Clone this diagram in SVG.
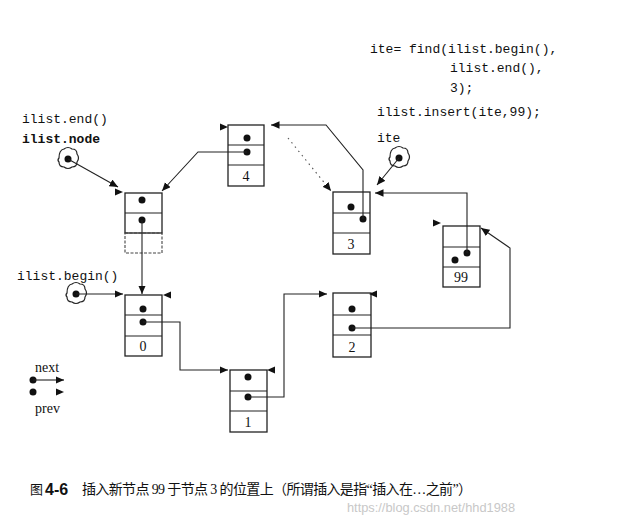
<svg xmlns="http://www.w3.org/2000/svg" width="643" height="523" viewBox="0 0 643 523">
<style>
.box{fill:none;stroke:#222;stroke-width:1.3}
.row{stroke:#222;stroke-width:1.1}
.dot{fill:#111}
.ln{fill:none;stroke:#222;stroke-width:1.1;marker-end:url(#ah)}
.dl{fill:none;stroke:#555;stroke-width:1.1;stroke-dasharray:1.5 4;marker-end:url(#ah)}
.tri{fill:#111}
.code{font-family:"Liberation Mono","DejaVu Sans Mono",monospace;font-size:13px;fill:#111}
.num{font-family:"Liberation Serif","Times New Roman",serif;font-size:14px;fill:#111;text-anchor:middle}
.leg{font-family:"Liberation Serif","Times New Roman",serif;font-size:14px;fill:#111}
.cloud{fill:none;stroke:#222;stroke-width:1.2}
</style>
<defs>
<marker id="ah" markerWidth="9" markerHeight="8" refX="8.5" refY="3.75" orient="auto" markerUnits="userSpaceOnUse">
<path d="M0,0 L8.5,3.75 L0,7.5 z" fill="#111"/>
</marker>
<polygon id="tr" points="0,-3.5 8,0 0,3.5" class="tri"/>
<polygon id="tl" points="0,-3.5 -8,0 0,3.5" class="tri"/>
</defs>

<g id="code">
<text class="code" x="370" y="53">ite= find(ilist.begin(),</text>
<text class="code" x="450" y="72">ilist.end(),</text>
<text class="code" x="450" y="92">3);</text>
<text class="code" x="377" y="116">ilist.insert(ite,99);</text>
</g>

<g id="ptr-end">
<text class="code" x="22" y="123">ilist.end()</text>
<text class="code" x="22" y="143" font-weight="bold">ilist.node</text>
<path class="cloud" d="M59,158 q0,-8 5,-9 q4,-3 8,0 q5,0 5,5 q3,4 0,8 q0,5 -5,5 q-4,3 -8,0 q-5,0 -5,-5 q-2,-2 0,-4 z"/>
<circle class="dot" cx="68" cy="159" r="3.5"/>
</g>

<g id="ptr-begin">
<text class="code" x="17" y="280">ilist.begin()</text>
<path class="cloud" d="M67,293 q0,-8 5,-9 q4,-3 8,0 q5,0 5,5 q3,4 0,8 q0,5 -5,5 q-4,3 -8,0 q-5,0 -5,-5 q-2,-2 0,-4 z"/>
<circle class="dot" cx="76" cy="294" r="3.5"/>
</g>

<g id="ptr-ite">
<text class="code" x="377" y="142">ite</text>
<path class="cloud" d="M390,157 q0,-8 5,-9 q4,-3 8,0 q5,0 5,5 q3,4 0,8 q0,5 -5,5 q-4,3 -8,0 q-5,0 -5,-5 q-2,-2 0,-4 z"/>
<circle class="dot" cx="399" cy="158" r="3.5"/>
</g>

<g id="node-end">
<rect class="box" x="125" y="193" width="37" height="40"/>
<rect x="125" y="233" width="37" height="20" fill="none" stroke="#444" stroke-width="1.1" stroke-dasharray="3 1.5"/>
<line class="row" x1="125" y1="213" x2="162" y2="213"/>
<circle class="dot" cx="142" cy="200" r="3.5"/>
<circle class="dot" cx="142" cy="220" r="3.5"/>
<use href="#tr" x="115" y="192"/>
</g>

<g id="node-4">
<rect class="box" x="228" y="125" width="36" height="61"/>
<line class="row" x1="228" y1="145" x2="264" y2="145"/>
<line class="row" x1="228" y1="165" x2="264" y2="165"/>
<circle class="dot" cx="247" cy="138" r="3.5"/>
<circle class="dot" cx="247" cy="152" r="3.5"/>
<text class="num" x="246" y="181">4</text>
<use href="#tr" x="220" y="127"/>
</g>

<g id="node-3">
<rect class="box" x="333" y="192" width="37" height="62"/>
<line class="row" x1="333" y1="213" x2="370" y2="213"/>
<line class="row" x1="333" y1="233" x2="370" y2="233"/>
<circle class="dot" cx="351" cy="207" r="3.5"/>
<circle class="dot" cx="363" cy="219" r="3.5"/>
<text class="num" x="351" y="249">3</text>
</g>

<g id="node-99">
<rect class="box" x="443" y="226" width="37" height="61"/>
<line class="row" x1="443" y1="247" x2="480" y2="247"/>
<line class="row" x1="443" y1="267" x2="480" y2="267"/>
<circle class="dot" cx="467" cy="253" r="3.5"/>
<circle class="dot" cx="455" cy="260" r="3.5"/>
<text class="num" x="461" y="282">99</text>
<use href="#tr" x="433" y="223"/>
</g>

<g id="node-0">
<rect class="box" x="125" y="295" width="37" height="61"/>
<line class="row" x1="125" y1="315" x2="162" y2="315"/>
<line class="row" x1="125" y1="336" x2="162" y2="336"/>
<circle class="dot" cx="143" cy="309" r="3.5"/>
<circle class="dot" cx="143" cy="322" r="3.5"/>
<text class="num" x="143" y="351">0</text>
<use href="#tl" x="171" y="295"/>
</g>

<g id="node-1">
<rect class="box" x="230" y="370" width="37" height="62"/>
<line class="row" x1="230" y1="391" x2="267" y2="391"/>
<line class="row" x1="230" y1="411" x2="267" y2="411"/>
<circle class="dot" cx="248" cy="377" r="3.5"/>
<circle class="dot" cx="248" cy="397" r="3.5"/>
<text class="num" x="248" y="427">1</text>
<use href="#tl" x="275" y="370"/>
</g>

<g id="node-2">
<rect class="box" x="333" y="293" width="38" height="64"/>
<line class="row" x1="333" y1="315" x2="371" y2="315"/>
<line class="row" x1="333" y1="335" x2="371" y2="335"/>
<circle class="dot" cx="352" cy="309" r="3.5"/>
<circle class="dot" cx="352" cy="328" r="3.5"/>
<text class="num" x="352" y="352">2</text>
<use href="#tl" x="377" y="294"/>
</g>

<g id="connectors">
<path class="ln" d="M68,159 L118,187"/>
<path class="ln" d="M247,152 L198,152 L162,191"/>
<path class="ln" d="M142,220 L142,294"/>
<path class="ln" d="M76,294 L123,294"/>
<path class="ln" d="M143,322 L180,322 L180,370 L228,370"/>
<path class="ln" d="M248,397 L284,397 L284,294 L327,294"/>
<path class="ln" d="M352,328 L510,328 L510,248 L481,228"/>
<path class="ln" d="M467,253 L467,193 L375,193"/>
<path class="ln" d="M363,219 L363,170 L326,125 L271,125"/>
<path class="ln" d="M399,158 L377,185"/>
<path class="dl" d="M288,138 L331,191"/>
</g>

<g id="legend">
<text class="leg" x="35" y="372">next</text>
<circle class="dot" cx="33" cy="380" r="3.5"/>
<path class="ln" d="M33,380 L64,380"/>
<circle class="dot" cx="33" cy="392" r="3.5"/>
<use href="#tr" x="56" y="392"/>
<text class="leg" x="35" y="413">prev</text>
</g>

<g id="caption">
<text x="30" y="494" font-family="'Noto Sans CJK SC',sans-serif" font-size="13" fill="#111">图</text>
<text x="45" y="495" font-family="'Liberation Sans',Arial,sans-serif" font-size="16" font-weight="bold" fill="#111">4-6</text>
<text x="82" y="494" font-family="'Liberation Serif','Noto Sans CJK SC',serif" font-size="14" fill="#111" textLength="390" lengthAdjust="spacing">插入新节点 99 于节点 3 的位置上（所谓插入是指“插入在…之前”）</text>
<text x="347" y="512" font-family="'Liberation Sans',Arial,sans-serif" font-size="13" fill="#c8c8c8" textLength="168" lengthAdjust="spacingAndGlyphs">https://blog.csdn.net/hhd1988</text>
</g>
</svg>
